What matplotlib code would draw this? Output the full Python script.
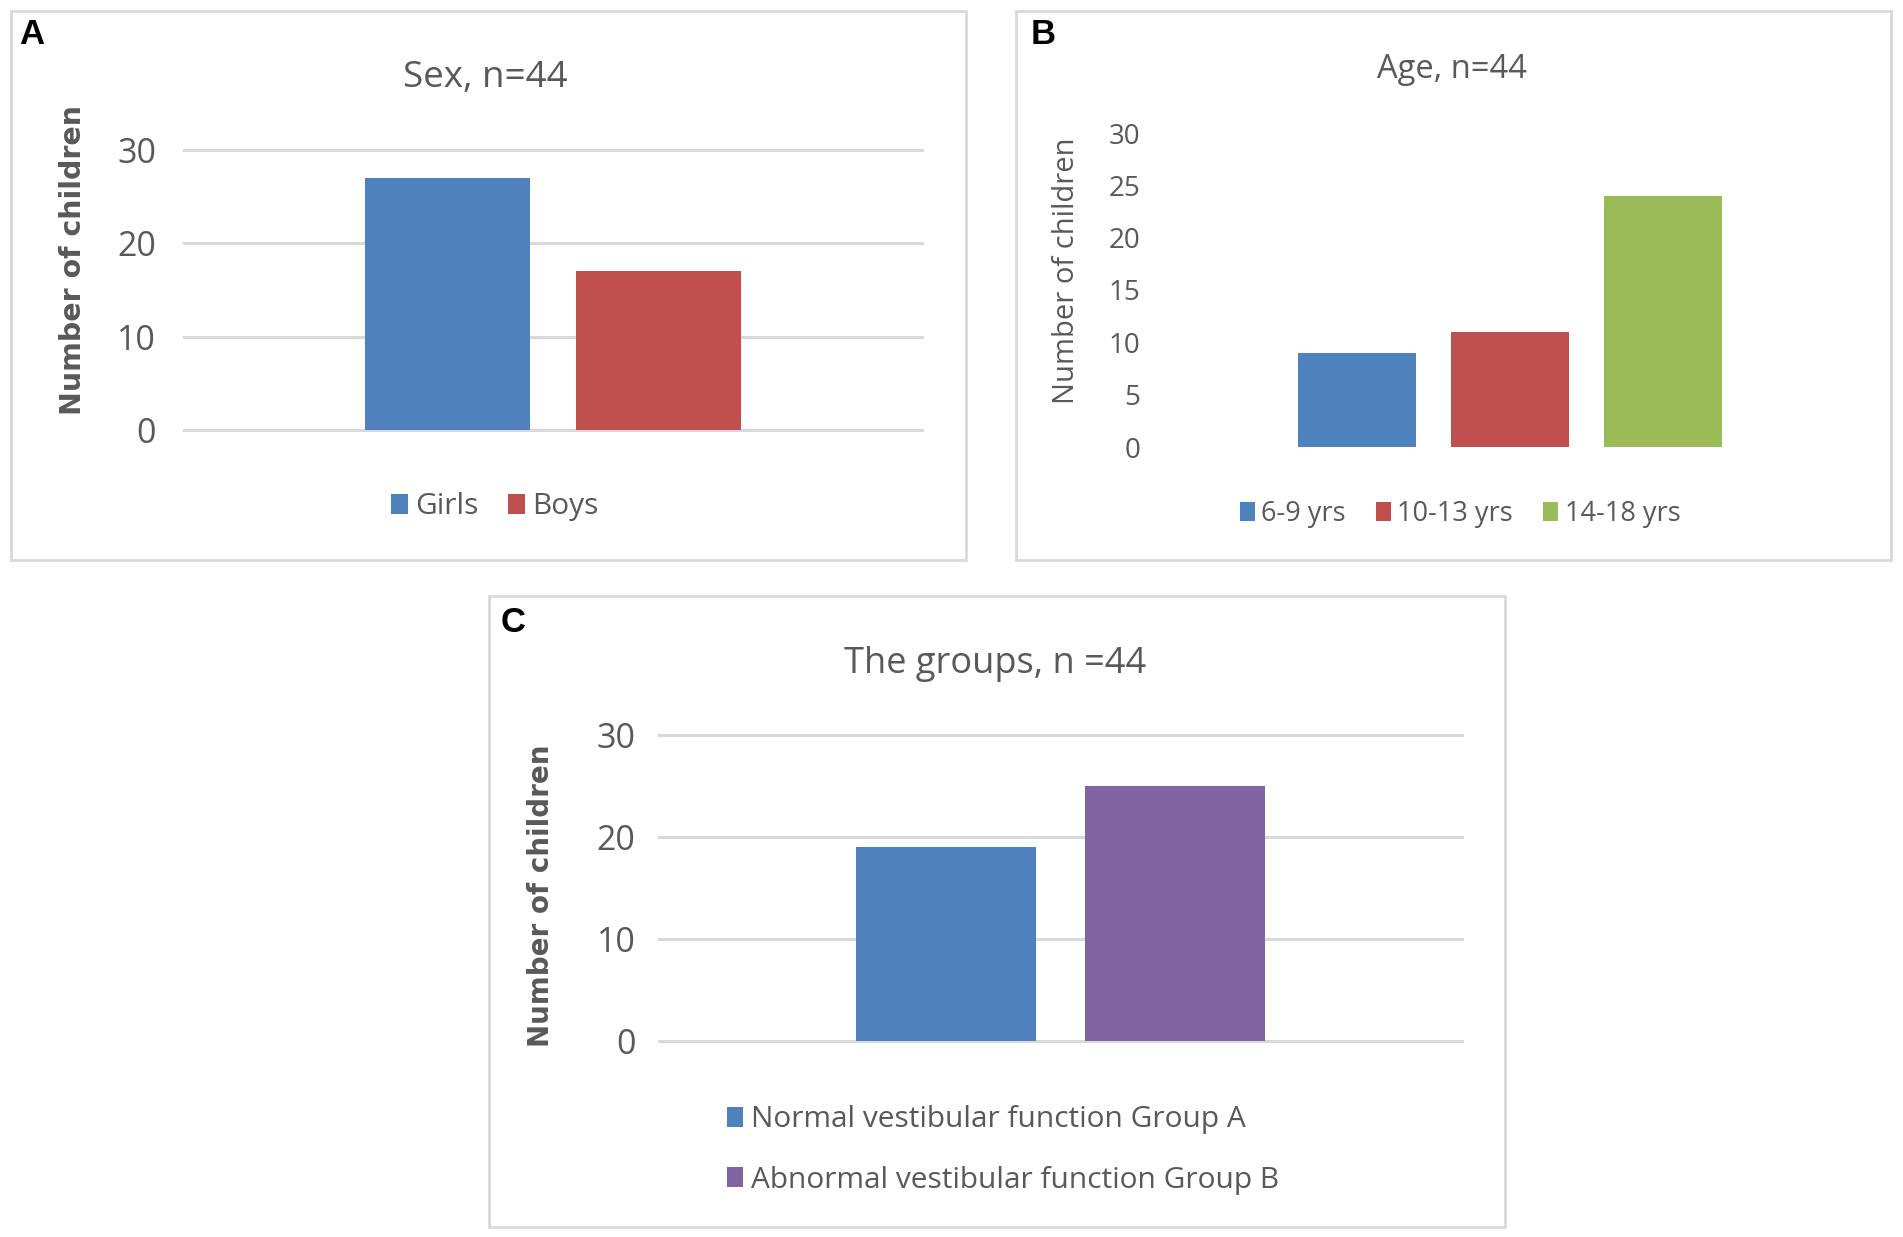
import matplotlib
matplotlib.use("Agg")
import matplotlib.pyplot as plt
from matplotlib.patches import Rectangle

# panel A - sex
sex_labels = ["Girls", "Boys"]
sex_counts = [27, 17]
sex_colors = ["#4F81BD", "#C0504D"]

# panel B - age
age_labels = ["6-9 yrs", "10-13 yrs", "14-18 yrs"]
age_counts = [9, 11, 24]
age_colors = ["#4F81BD", "#C0504D", "#9BBB59"]

# panel C - groups
group_labels = ["Normal vestibular function Group A", "Abnormal vestibular function Group B"]
group_counts = [19, 25]
group_colors = ["#4F81BD", "#8064A2"]

TXT = "#595959"
GRID = "#D9D9D9"
FONT = ["Open Sans", "DejaVu Sans"]
BOLDFONT = ["DejaVu Sans Condensed", "DejaVu Sans"]

W, H = 1903, 1237
fig = plt.figure(figsize=(W / 100, H / 100), dpi=100)


def fx(px):
    return px / W


def fy(py):
    return 1 - py / H


def rect_px(x0, y0, x1, y1):
    # axes rect from pixel coords (top-left origin)
    return [fx(x0), fy(y1), fx(x1) - fx(x0), fy(y0) - fy(y1)]


def panel_box(x0, y0, x1, y1):
    fig.patches.append(Rectangle((fx(x0), fy(y1)), fx(x1) - fx(x0), fy(y0) - fy(y1),
                                 transform=fig.transFigure, fill=False,
                                 edgecolor=GRID, lw=2))


def draw_bars(ax, counts, colors, labels, width, xlim, ymax, step, grid=True,
              tsize=22, tpad=14):
    n = len(counts)
    xs = [i - (n - 1) / 2 for i in range(n)]
    for x, c, col, lab in zip(xs, counts, colors, labels):
        ax.bar(x, c, width=width, color=col, label=lab, zorder=3)
    ax.set_xlim(*xlim)
    ax.set_ylim(0, ymax)
    ax.set_yticks(range(0, ymax + 1, step))
    ax.set_xticks([])
    for s in ax.spines.values():
        s.set_visible(False)
    if grid:
        for t in range(0, ymax + 1, step):
            ax.axhline(t, color=GRID, lw=2.2, zorder=1, clip_on=False)
    ax.tick_params(axis="y", length=0, labelsize=tsize, labelcolor=TXT, pad=tpad)
    for lab in ax.get_yticklabels():
        lab.set_family(FONT)


# boxes
panel_box(11, 11, 966, 560)
panel_box(1016, 11, 1891, 560)
panel_box(489, 596, 1505, 1227)

# panel letters
for letter, x, y in [("A", 32, 34), ("B", 1043, 34), ("C", 513, 623)]:
    fig.text(fx(x), fy(y), letter, fontsize=25, fontweight="bold", color="black",
             ha="center", va="center", family=["Liberation Sans", "DejaVu Sans"])

# ---- A ----
axA = fig.add_axes(rect_px(184, 150, 922, 430))
draw_bars(axA, sex_counts, sex_colors, sex_labels, 0.78, (-1.747, 1.747), 30, 10,
          tsize=24.5, tpad=20)
fig.text(fx(73), fy(260), "Number of children", fontsize=20.5, color=TXT,
         fontweight="bold", rotation=90, ha="center", va="center", family=BOLDFONT)
fig.text(fx(485), fy(78), "Sex, n=44", fontsize=26.5, color=TXT, ha="center",
         va="center", family=FONT)
axA.legend(loc="center", bbox_to_anchor=(fx(495), fy(507)), bbox_transform=fig.transFigure,
           ncol=2, frameon=False, labelcolor=TXT, handlelength=0.55,
           handleheight=0.65, handletextpad=0.25, columnspacing=1.0,
           prop={"family": FONT, "size": 21.5})

# ---- B ----
axB = fig.add_axes(rect_px(1147, 133, 1873, 447))
draw_bars(axB, age_counts, age_colors, age_labels, 0.77, (-2.37, 2.37), 30, 5, grid=False,
          tsize=20, tpad=5)
fig.text(fx(1066), fy(271), "Number of children", fontsize=21, color=TXT,
         rotation=90, ha="center", va="center", family=FONT)
fig.text(fx(1452), fy(70), "Age, n=44", fontsize=23.5, color=TXT, ha="center",
         va="center", family=FONT)
axB.legend(loc="center", bbox_to_anchor=(fx(1460), fy(514)), bbox_transform=fig.transFigure,
           ncol=3, frameon=False, labelcolor=TXT, handlelength=0.55,
           handleheight=0.65, handletextpad=0.25, columnspacing=1.1,
           prop={"family": FONT, "size": 19.5})

# ---- C ----
axC = fig.add_axes(rect_px(659, 735, 1462, 1041))
draw_bars(axC, group_counts, group_colors, group_labels, 0.785, (-1.755, 1.755), 30, 10,
          tsize=24.5, tpad=17)
fig.text(fx(541), fy(896), "Number of children", fontsize=20, color=TXT,
         fontweight="bold", rotation=90, ha="center", va="center", family=BOLDFONT)
fig.text(fx(995), fy(664), "The groups, n =44", fontsize=26, color=TXT, ha="center",
         va="center", family=FONT)
axC.legend(loc="center left", bbox_to_anchor=(fx(700), fy(1150)), bbox_transform=fig.transFigure,
           ncol=1, frameon=False, labelcolor=TXT, handlelength=0.55,
           handleheight=0.65, handletextpad=0.25, labelspacing=1.05,
           prop={"family": FONT, "size": 21.5})

fig.savefig("out.png", dpi=100, facecolor="white")
